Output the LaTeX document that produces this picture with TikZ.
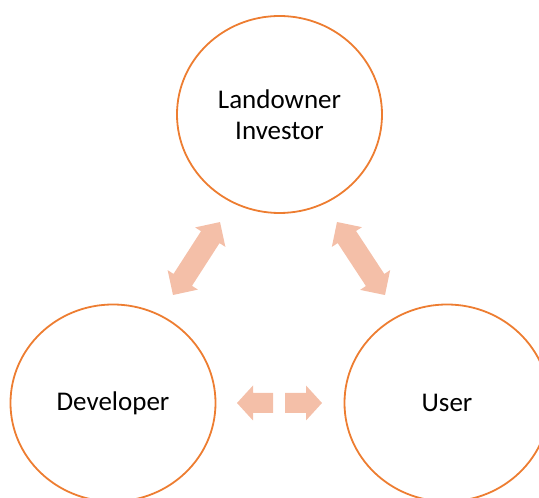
\documentclass[tikz,border=0pt]{standalone}
\usepackage{fontspec}
\setmainfont{Carlito}
\usetikzlibrary{shapes.geometric}
\definecolor{ringorange}{HTML}{ED7D31}
\definecolor{arrowpeach}{HTML}{F4BFA8}
\tikzset{
  party/.style={ellipse, draw=ringorange, line width=1.8pt,
    minimum width=205pt, minimum height=197pt, inner sep=0pt,
    font=\fontsize{27}{31}\selectfont, align=center, text=black},
  flow/.style={fill=arrowpeach, draw=none},
}
% double-headed block arrow: start point, angle, length
\newcommand\dblarrow[3]{%
  \fill[flow, shift={#1}, rotate=#2]
    (0,0) -- (18,18) -- (18,11) -- ({#3-18},11) -- ({#3-18},18)
    -- (#3,0) -- ({#3-18},-18) -- ({#3-18},-11) -- (18,-11)
    -- (18,-18) -- cycle;}
\begin{document}
\begin{tikzpicture}[x=1pt,y=1pt]
  \useasboundingbox (0,0) rectangle (539,498);
  \clip (0,0) rectangle (539,498);

  % the three parties
  \node[party] (landowner) at (279.5,383.5) {Landowner\\Investor};
  \node[party] (developer) at (113,95) {Developer};
  \node[party] (user) at (447,95) {User};

  % links between them
  \coordinate (tl) at (173,203);
  \coordinate (tr) at (337,276);
  \dblarrow{(tl)}{57.2}{86.8}
  \dblarrow{(tr)}{-56.7}{87.4}

  % split arrow between developer and user
  \fill[flow] (237,95) -- (253,112.5) -- (253,105) -- (273,105)
    -- (273,85) -- (253,85) -- (253,77.5) -- cycle;
  \fill[flow] (322,95) -- (306,112.5) -- (306,105) -- (285,105)
    -- (285,85) -- (306,85) -- (306,77.5) -- cycle;
\end{tikzpicture}
\end{document}
